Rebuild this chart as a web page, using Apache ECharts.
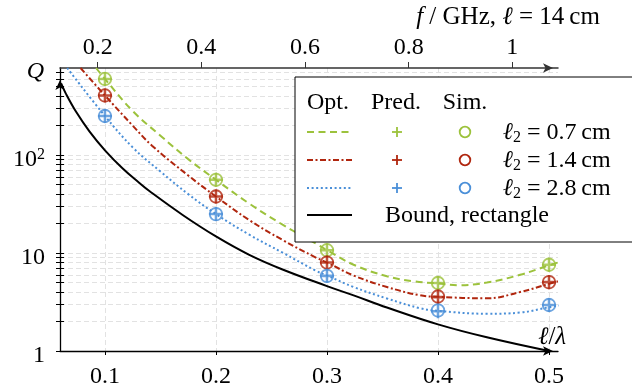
<!DOCTYPE html>
<html><head><meta charset="utf-8">
<script src="https://cdn.jsdelivr.net/npm/echarts@6/dist/echarts.min.js"></script>
<style>html,body{margin:0;padding:0;background:#fff}#c{width:632px;height:389px}</style>
</head><body><div id="c"></div>
<script>
// ---- data ----
const xTicks = [0.1, 0.2, 0.3, 0.4, 0.5];
const fTicks = [0.2, 0.4, 0.6, 0.8, 1];
const yLabelValues = [1, 10, 100];
const yTickValues = [1,2,3,4,5,6,7,8,9,10,20,30,40,50,60,70,80,90,100,200,300,400,500,600,700];
const ghzPerUnit = 0.299792458 / 0.14; // f (GHz) = (l/lambda) * c / l, l = 14 cm

const markerX = [0.1, 0.2, 0.3, 0.4, 0.5];
const simGreen  = [600, 56, 10.7, 4.95, 7.6];
const predGreen = [600, 56, 10.7, 4.95, 7.6];
const simRed    = [407, 37.8, 8.0, 3.6, 5.05];
const predRed   = [407, 37.8, 8.0, 3.55, 5.05];
const simBlue   = [251, 25, 5.85, 2.6, 2.95];
const predBlue  = [251, 25, 5.85, 2.55, 2.95];

const optGreenX = [0.092, 0.1, 0.125, 0.15, 0.175, 0.2, 0.23, 0.26, 0.29, 0.3, 0.324, 0.354, 0.378, 0.4, 0.42, 0.444, 0.474, 0.5, 0.508];
const optGreenQ = [776, 600, 282, 158, 91, 56, 32, 19.5, 12.5, 10.7, 7.6, 5.8, 5.15, 4.9, 4.7, 5.0, 6.0, 7.5, 8.0];
const optRedX   = [0.078, 0.1, 0.125, 0.1424, 0.175, 0.2, 0.23, 0.26, 0.29, 0.3, 0.324, 0.354, 0.384, 0.4, 0.444, 0.474, 0.5, 0.508];
const optRedQ   = [776, 407, 200, 125, 62, 37.8, 21.7, 13.6, 9.0, 8.0, 5.9, 4.5, 3.7, 3.58, 3.45, 4.0, 4.85, 5.15];
const optBlueX  = [0.066, 0.1, 0.125, 0.15, 0.175, 0.2, 0.23, 0.26, 0.29, 0.3, 0.324, 0.354, 0.384, 0.4, 0.444, 0.474, 0.5, 0.51];
const optBlueQ  = [776, 251, 120, 68, 40, 25, 15.4, 10.1, 6.6, 5.9, 4.5, 3.44, 2.73, 2.57, 2.4, 2.47, 2.8, 2.92];
const boundX    = [0.0605, 0.065, 0.074, 0.086, 0.1, 0.116, 0.131, 0.14, 0.17, 0.2, 0.23, 0.26, 0.3, 0.324, 0.354, 0.4, 0.444, 0.5];
const boundQ    = [540, 420, 277, 175, 112, 73, 52, 43, 24.5, 14.8, 9.6, 6.8, 4.6, 3.7, 2.78, 1.87, 1.38, 1.0];

const legendLabels = ['0.7', '1.4', '2.8'];

// ---- styles ----
const FONT = 'Liberation Serif';
const GREEN = '#9cc23c', RED = '#b0260e', BLUE = '#4a8fd8';
const xMin = 0.0595, xMax = 0.5081, yMax = 776;

const zip = (a, b) => a.map((v, i) => [v, b[i]]);
const PLUS = 'path://M4.1,0 H5.9 V4.1 H10 V5.9 H5.9 V10 H4.1 V5.9 H0 V4.1 H4.1 Z';

function lineSeries(x, q, color, type, width) {
  return { type: 'line', data: zip(x, q), showSymbol: false, smooth: 0.4,
    lineStyle: { color, width, type, cap: 'butt' }, z: 3, animation: false };
}
function simSeries(v, color) {
  return { type: 'scatter', data: zip(markerX, v), symbol: 'circle', symbolSize: 12.5,
    itemStyle: { color: 'rgba(0,0,0,0)', borderColor: color, borderWidth: 1.8 }, z: 5, animation: false };
}
function predSeries(v, color) {
  return { type: 'scatter', data: zip(markerX, v), symbol: PLUS, symbolSize: 14,
    itemStyle: { color }, z: 5, animation: false };
}

const gridLine = { show: true, lineStyle: { color: '#e2e2e2', width: 1, type: [5, 3] } };

// ---- legend graphic ----
const LX = 295, LY = 77;
const rowsY = [132, 160, 188];
const rowColors = [GREEN, RED, BLUE];
const rowDash = [[7, 4.5], [6, 2.5, 2, 2.5], [2, 2.6]];
const Z = 100;
const legendChildren = [
  { type: 'rect', z: Z, shape: { x: LX, y: LY, width: 345, height: 165 }, style: { fill: '#fff', stroke: '#000', lineWidth: 1 } },
  { type: 'text', z: Z + 1, x: 328, y: 103, style: { text: 'Opt.', font: '24px ' + FONT, fill: '#000', align: 'center', verticalAlign: 'middle' } },
  { type: 'text', z: Z + 1, x: 396, y: 103, style: { text: 'Pred.', font: '24px ' + FONT, fill: '#000', align: 'center', verticalAlign: 'middle' } },
  { type: 'text', z: Z + 1, x: 465, y: 103, style: { text: 'Sim.', font: '24px ' + FONT, fill: '#000', align: 'center', verticalAlign: 'middle' } },
  { type: 'line', z: Z + 1, shape: { x1: 307, y1: 215, x2: 352, y2: 215 }, style: { stroke: '#000', lineWidth: 2 } },
  { type: 'text', z: Z + 1, x: 385, y: 216, style: { text: 'Bound, rectangle', font: '24px ' + FONT, fill: '#000', align: 'left', verticalAlign: 'middle' } }
];
rowsY.forEach((y, i) => {
  const c = rowColors[i];
  legendChildren.push(
    { type: 'line', z: Z + 1, shape: { x1: 307, y1: y, x2: 352, y2: y }, style: { stroke: c, lineWidth: 2, lineDash: rowDash[i] } },
    { type: 'line', z: Z + 1, shape: { x1: 392, y1: y, x2: 402, y2: y }, style: { stroke: c, lineWidth: 1.8 } },
    { type: 'line', z: Z + 1, shape: { x1: 397, y1: y - 5, x2: 397, y2: y + 5 }, style: { stroke: c, lineWidth: 1.8 } },
    { type: 'circle', z: Z + 1, shape: { cx: 465, cy: y, r: 5.3 }, style: { fill: 'none', stroke: c, lineWidth: 1.8 } },
    { type: 'text', z: Z + 1, x: 503, y: y + 1, style: {
        text: '{i|ℓ}{s|2}{r| = ' + legendLabels[i] + '\u2009cm}', align: 'left', verticalAlign: 'middle',
        rich: { i: { font: 'italic 24px ' + FONT, fill: '#000' }, s: { font: '16px ' + FONT, fill: '#000', padding: [10, 0, 0, 0] }, r: { font: '24px ' + FONT, fill: '#000' } } } }
  );
});

const chart = echarts.init(document.getElementById('c'), null, { renderer: 'canvas' });
chart.setOption({
  animation: false,
  backgroundColor: '#fff',
  grid: { left: 60, right: 632 - 558, top: 68, bottom: 32, containLabel: false },
  xAxis: [
    { type: 'value', position: 'bottom', min: xMin, max: xMax,
      axisLine: { show: true, onZero: false, lineStyle: { color: '#000', width: 1.3 }, symbol: ['none', 'arrow'], symbolSize: [7, 10], symbolOffset: [0, -5] },
      axisTick: { show: true, customValues: xTicks, length: 4, lineStyle: { color: '#000' } },
      axisLabel: { customValues: xTicks, formatter: v => v.toFixed(1), fontFamily: FONT, fontSize: 24, color: '#000', margin: 14 },
      splitLine: gridLine,
      name: '{i|ℓ}{r|/}{i|λ}', nameLocation: 'end', nameGap: -20,
      nameTextStyle: { align: 'left', verticalAlign: 'bottom', padding: [0, 0, 1, 0],
        rich: { i: { fontFamily: FONT, fontSize: 25, fontStyle: 'italic', color: '#000' }, r: { fontFamily: FONT, fontSize: 25, color: '#000' } } } },
    { type: 'value', position: 'top', min: xMin * ghzPerUnit, max: xMax * ghzPerUnit,
      axisLine: { show: true, onZero: false, lineStyle: { color: '#333', width: 1.5 }, symbol: ['none', 'arrow'], symbolSize: [7, 10], symbolOffset: [0, -5] },
      axisTick: { show: true, customValues: fTicks, length: 6, lineStyle: { color: '#333' } },
      axisLabel: { customValues: fTicks, formatter: v => (v === 1 ? '1' : v.toFixed(1)), fontFamily: FONT, fontSize: 24, color: '#000', margin: 8 },
      splitLine: { show: false },
      name: '{i|f}{r| / GHz, }{i|ℓ}{r| = 14\u2009cm}', nameLocation: 'end', nameGap: -50,
      nameTextStyle: { align: 'center', verticalAlign: 'bottom', padding: [0, 0, 38, 0],
        rich: { i: { fontFamily: FONT, fontSize: 25, fontStyle: 'italic', color: '#000' }, r: { fontFamily: FONT, fontSize: 25, color: '#000' } } } }
  ],
  yAxis: [
    { type: 'log', logBase: 10, min: 1, max: yMax, position: 'left',
      axisLine: { show: true, onZero: false, lineStyle: { color: '#000', width: 1.3 }, symbol: ['none', 'arrow'], symbolSize: [7, 10], symbolOffset: [0, -12] },
      axisTick: { show: true, customValues: yTickValues, length: 4, lineStyle: { color: '#000' } },
      axisLabel: { customValues: yLabelValues, fontFamily: FONT, fontSize: 24, color: '#000', margin: 15, padding: [10, 0, 0, 0],
        formatter: v => (Math.abs(v - 100) < 1e-6 ? '{b|10}{s|2}' : String(Math.round(v))),
        rich: { b: { fontFamily: FONT, fontSize: 24, color: '#000' }, s: { fontFamily: FONT, fontSize: 16, color: '#000', padding: [0, 0, 11, 0] } } },
      splitLine: gridLine,
      name: 'Q', nameLocation: 'end', nameGap: -4,
      nameTextStyle: { fontFamily: FONT, fontSize: 24, fontStyle: 'italic', color: '#000', align: 'right', verticalAlign: 'middle', padding: [0, 16, 0, 0] } },
    { type: 'log', logBase: 10, min: 1, max: yMax, position: 'left',
      axisLine: { show: false, onZero: false },
      axisTick: { show: true, inside: true, customValues: yTickValues, length: 4, lineStyle: { color: '#000' } },
      axisLabel: { show: false }, splitLine: { show: false } }
  ],
  series: [
    lineSeries(boundX, boundQ, '#000', 'solid', 2),
    lineSeries(optBlueX, optBlueQ, BLUE, [2, 2.6], 2),
    lineSeries(optRedX, optRedQ, RED, [6, 2.5, 2, 2.5], 2),
    lineSeries(optGreenX, optGreenQ, GREEN, [7, 4.5], 2),
    predSeries(predGreen, GREEN), simSeries(simGreen, GREEN),
    predSeries(predRed, RED), simSeries(simRed, RED),
    predSeries(predBlue, BLUE), simSeries(simBlue, BLUE)
  ],
  graphic: [{ type: 'group', children: legendChildren }]
});
</script></body></html>
